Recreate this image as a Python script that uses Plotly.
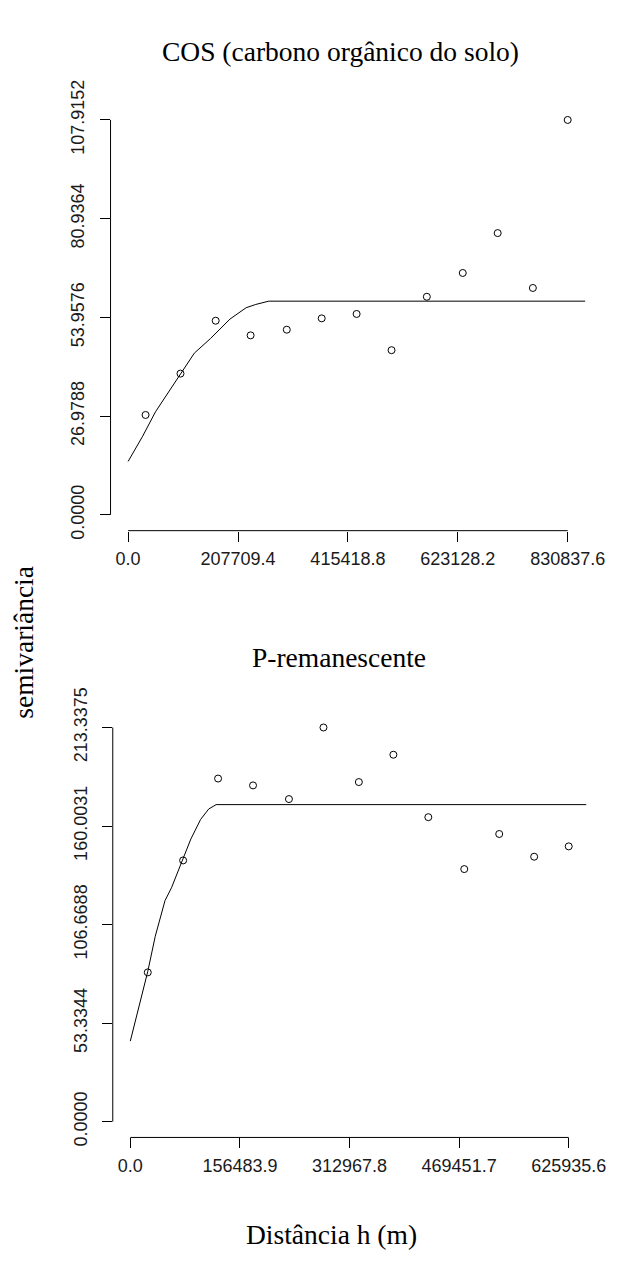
import plotly.graph_objects as go

# --- COS (carbono orgânico do solo): semivariograma experimental + modelo ajustado ---
cos_lag = [33000, 99000, 165500, 231500, 299900, 365900, 431900, 497900,
           564600, 632500, 698500, 765000, 830837.6]
cos_gamma = [27.3, 38.6, 53.05, 49.05, 50.6, 53.7, 54.9, 45.0,
             59.6, 66.1, 77.0, 62.0, 107.9152]
cos_model_h = [0, 27500, 51900, 94600, 125200, 155800, 192500, 223000,
               241300, 265800, 864600]
cos_model_gamma = [14.6, 21.5, 28.2, 37.5, 44.2, 48.2, 53.5, 56.6,
                   57.5, 58.4, 58.4]
cos_xticks = [0.0, 207709.4, 415418.8, 623128.2, 830837.6]
cos_yticks = [0.0, 26.9788, 53.9576, 80.9364, 107.9152]

# --- P-remanescente ---
p_lag = [24950, 75400, 125300, 175200, 226500, 275800, 326300, 375600,
         425500, 476800, 526700, 576600, 625935.6]
p_gamma = [80.8, 141.4, 185.7, 182.0, 174.6, 213.3375, 183.8, 198.6,
           164.8, 136.7, 155.7, 143.4, 149.0]
p_model_h = [0, 24950, 35600, 49500, 58800, 75400, 86500, 100300,
             111900, 122500, 652400]
p_model_gamma = [43.6, 81.3, 100.3, 119.6, 126.6, 142.4, 153.0, 163.5,
                 169.2, 171.6, 171.6]
p_xticks = [0.0, 156483.9, 312967.8, 469451.7, 625935.6]
p_yticks = [0.0, 53.3344, 106.6688, 160.0031, 213.3375]

W, H = 643, 1268
SERIF = "Liberation Serif, Times New Roman, serif"
SANS = "Liberation Sans, Arial, sans-serif"


def padded(ticks, frac=0.04):
    lo, hi = ticks[0], ticks[-1]
    d = (hi - lo) * frac
    return [lo - d, hi + d]


fig = go.Figure()

panels = [
    ("x", "y", cos_lag, cos_gamma, cos_model_h, cos_model_gamma, cos_xticks, cos_yticks),
    ("x2", "y2", p_lag, p_gamma, p_model_h, p_model_gamma, p_xticks, p_yticks),
]

for xa, ya, lag, gam, mh, mg, xt, yt in panels:
    fig.add_trace(go.Scatter(
        x=mh, y=mg, mode="lines", xaxis=xa, yaxis=ya,
        line=dict(color="black", width=1), showlegend=False, hoverinfo="skip"))
    fig.add_trace(go.Scatter(
        x=lag, y=gam, mode="markers", xaxis=xa, yaxis=ya,
        marker=dict(symbol="circle-open", size=7, color="black",
                    line=dict(width=1, color="black")),
        showlegend=False))
    # axis lines spanning first to last tick only
    fig.add_shape(type="line", xref=xa, yref=f"{ya} domain",
                  x0=xt[0], x1=xt[-1], y0=0, y1=0,
                  line=dict(color="black", width=1))
    fig.add_shape(type="line", xref=f"{xa} domain", yref=ya,
                  x0=0, x1=0, y0=yt[0], y1=yt[-1],
                  line=dict(color="black", width=1))

xaxis_common = dict(showgrid=False, zeroline=False, showline=False,
                    ticks="outside", ticklen=10, tickwidth=1, tickcolor="black",
                    tickfont=dict(family=SANS, size=18, color="#1a1a1a"),
                    ticklabelstandoff=2)
yaxis_common = dict(showgrid=False, zeroline=False, showline=False,
                    ticks="outside", ticklen=10, tickwidth=1, tickcolor="black",
                    tickfont=dict(family=SANS, size=18, color="#1a1a1a"),
                    tickangle=-90, ticklabelstandoff=8)

fig.update_layout(
    width=W, height=H,
    margin=dict(l=0, r=0, t=0, b=0),
    paper_bgcolor="white", plot_bgcolor="white",
    xaxis=dict(domain=[113.9 / W, 603.1 / W], range=padded(cos_xticks),
               tickvals=cos_xticks, ticktext=[f"{v:.1f}" for v in cos_xticks],
               anchor="y", **xaxis_common),
    yaxis=dict(domain=[1 - 520.2 / H, 1 - 82.3 / H], range=padded(cos_yticks),
               tickvals=cos_yticks, ticktext=[f"{v:.4f}" for v in cos_yticks],
               anchor="x", **yaxis_common),
    xaxis2=dict(domain=[116.2 / W, 604.1 / W], range=padded(p_xticks),
                tickvals=p_xticks, ticktext=[f"{v:.1f}" for v in p_xticks],
                anchor="y2", **xaxis_common),
    yaxis2=dict(domain=[1 - 1143.2 / H, 1 - 706.1 / H], range=padded(p_yticks),
                tickvals=p_yticks, ticktext=[f"{v:.4f}" for v in p_yticks],
                anchor="x2", **yaxis_common),
)

annotations = [
    ("COS (carbono orgânico do solo)", 351, 28, 0),
    ("P-remanescente", 349, 650, 0),
    ("semivariância", 24, 635, -90),
    ("Distância h (m)", 342, 1243, 0),
]
for text, px, py, ang in annotations:
    fig.add_annotation(text=text, xref="paper", yref="paper",
                       x=px / W, y=1 - py / H, xanchor="center", yanchor="middle",
                       textangle=ang, showarrow=False,
                       font=dict(family=SERIF, size=27.5, color="black"))

fig.write_html("out.html")
